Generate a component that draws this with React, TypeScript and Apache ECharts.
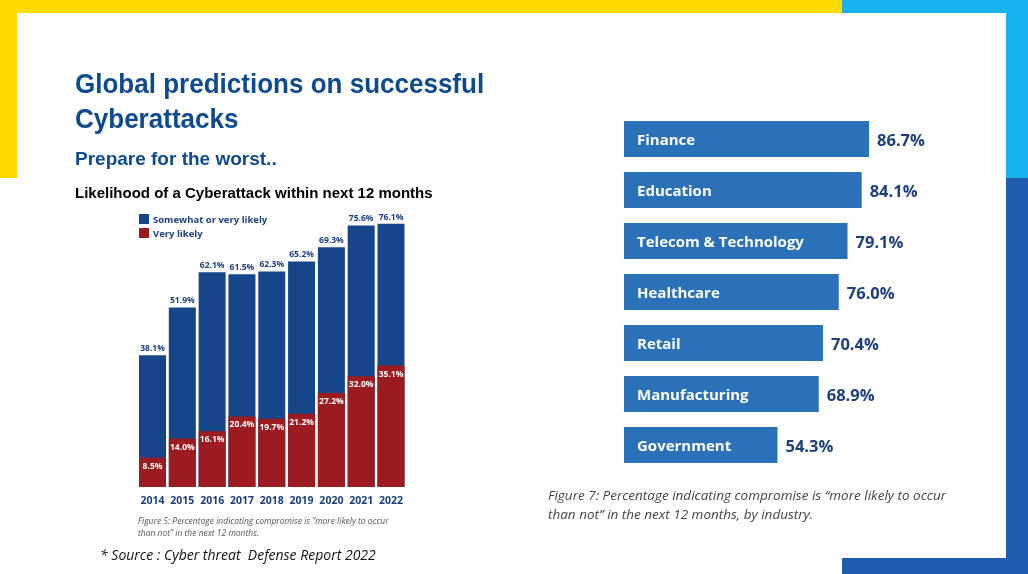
import React, { useEffect, useRef } from "react";
import * as echarts from "echarts";

const years = ["2014", "2015", "2016", "2017", "2018", "2019", "2020", "2021", "2022"];
const somewhatOrVeryLikely = [38.1, 51.9, 62.1, 61.5, 62.3, 65.2, 69.3, 75.6, 76.1];
const veryLikely = [8.5, 14.0, 16.1, 20.4, 19.7, 21.2, 27.2, 32.0, 35.1];

const industries = ["Finance", "Education", "Telecom & Technology", "Healthcare", "Retail", "Manufacturing", "Government"];
const industryValues = [86.7, 84.1, 79.1, 76.0, 70.4, 68.9, 54.3];

const NARROW = "'Liberation Sans Narrow', 'Arial Narrow', 'Liberation Sans', sans-serif";
const BODY = "'Open Sans', 'Noto Sans', sans-serif";
const TITLE_BLUE = "#0E4A90";

export default function App() {
  const ref = useRef<HTMLDivElement>(null);
  useEffect(() => {
    if (!ref.current) return;
    const chart = echarts.init(ref.current, undefined, { renderer: "svg" });
    const pct = (v: any) => Number(v).toFixed(1) + "%";
    chart.setOption({
      animation: false,
      graphic: [
        { type: "rect", shape: { x: 0, y: 0, width: 842, height: 178 }, style: { fill: "#FEDC00" } },
        { type: "rect", shape: { x: 842, y: 0, width: 186, height: 178 }, style: { fill: "#19B4EF" } },
        { type: "rect", shape: { x: 842, y: 178, width: 186, height: 396 }, style: { fill: "#1F5BAE" } },
        { type: "rect", shape: { x: 17, y: 13, width: 989, height: 545 }, style: { fill: "#FFFFFF" } },
        { type: "text", x: 75, y: 84, scaleX: 0.93, style: { text: "Global predictions on successful", fill: TITLE_BLUE, font: `bold 28px ${NARROW}`, verticalAlign: "middle" } },
        { type: "text", x: 75, y: 119, scaleX: 0.93, style: { text: "Cyberattacks", fill: TITLE_BLUE, font: `bold 28px ${NARROW}`, verticalAlign: "middle" } },
        { type: "text", x: 75, y: 158, style: { text: "Prepare for the worst..", fill: TITLE_BLUE, font: `bold 19px ${NARROW}`, verticalAlign: "middle" } },
        { type: "text", x: 75, y: 192, style: { text: "Likelihood of a Cyberattack within next 12 months", fill: "#000000", font: `bold 15px ${NARROW}`, verticalAlign: "middle" } },
        { type: "text", x: 138, y: 520, style: { text: "Figure 5: Percentage indicating compromise is \u201cmore likely to occur", fill: "#555555", font: `italic 8.5px ${BODY}`, verticalAlign: "middle" } },
        { type: "text", x: 138, y: 532, style: { text: "than not\u201d in the next 12 months.", fill: "#555555", font: `italic 8.5px ${BODY}`, verticalAlign: "middle" } },
        { type: "text", x: 100, y: 554, style: { text: "* Source : Cyber threat  Defense Report 2022", fill: "#111111", font: `italic 14px ${BODY}`, verticalAlign: "middle" } },
        { type: "text", x: 548, y: 495, style: { text: "Figure 7: Percentage indicating compromise is \u201cmore likely to occur", fill: "#444444", font: `italic 13.5px ${BODY}`, verticalAlign: "middle" } },
        { type: "text", x: 548, y: 514, style: { text: "than not\u201d in the next 12 months, by industry.", fill: "#444444", font: `italic 13.5px ${BODY}`, verticalAlign: "middle" } },
      ],
      legend: {
        data: ["Somewhat or very likely", "Very likely"],
        orient: "vertical",
        left: 139,
        top: 214,
        padding: 0,
        itemWidth: 10,
        itemHeight: 10,
        itemGap: 4,
        icon: "rect",
        textStyle: { color: "#1B3F7E", fontWeight: "bold", fontSize: 9.5, fontFamily: BODY, padding: [0, 0, 0, -1] },
      },
      grid: [
        { left: 137.6, top: 141, width: 268.3, height: 346 },
        { left: 624, top: 113.5, width: 282.6, height: 357 },
      ],
      xAxis: [
        {
          type: "category",
          gridIndex: 0,
          data: years,
          axisLine: { show: false },
          axisTick: { show: false },
          axisLabel: { interval: 0, color: "#1B3F7E", fontWeight: "bold", fontSize: 10.5, fontFamily: BODY, margin: 7 },
        },
        { type: "value", gridIndex: 1, min: 0, max: 100, show: false },
      ],
      yAxis: [
        { type: "value", gridIndex: 0, min: 0, max: 100, show: false },
        { type: "category", gridIndex: 1, data: industries, inverse: true, show: false },
      ],
      series: [
        {
          name: "Somewhat or very likely",
          type: "bar",
          xAxisIndex: 0,
          yAxisIndex: 0,
          data: somewhatOrVeryLikely,
          barWidth: 27,
          itemStyle: { color: "#17458A" },
          label: { show: true, position: "top", distance: 3, formatter: (p: any) => pct(p.value), color: "#1B3F7E", fontWeight: "bold", fontSize: 8.5, fontFamily: BODY },
        },
        {
          name: "Very likely",
          type: "bar",
          xAxisIndex: 0,
          yAxisIndex: 0,
          data: veryLikely,
          barWidth: 27,
          barGap: "-100%",
          itemStyle: { color: "#9B1B20" },
          label: { show: true, position: "insideTop", distance: 3, formatter: (p: any) => pct(p.value), color: "#FFFFFF", fontWeight: "bold", fontSize: 8.5, fontFamily: BODY },
        },
        {
          name: "Industry",
          type: "bar",
          xAxisIndex: 1,
          yAxisIndex: 1,
          data: industryValues,
          barWidth: 36,
          itemStyle: { color: "#2A71B8" },
          label: { show: true, position: "insideLeft", distance: 13, formatter: (p: any) => p.name, color: "#FFFFFF", fontWeight: "bold", fontSize: 15, fontFamily: BODY },
        },
        {
          name: "IndustryValue",
          type: "bar",
          xAxisIndex: 1,
          yAxisIndex: 1,
          data: industryValues,
          barWidth: 36,
          barGap: "-100%",
          itemStyle: { color: "transparent" },
          label: { show: true, position: "right", distance: 8, formatter: (p: any) => pct(p.value), color: "#1E3F7D", fontWeight: "bold", fontSize: 16.5, fontFamily: BODY },
        },
      ],
    });
    return () => chart.dispose();
  }, []);
  return <div ref={ref} style={{ position: "fixed", left: 0, top: 0, width: 1028, height: 574 }} />;
}
